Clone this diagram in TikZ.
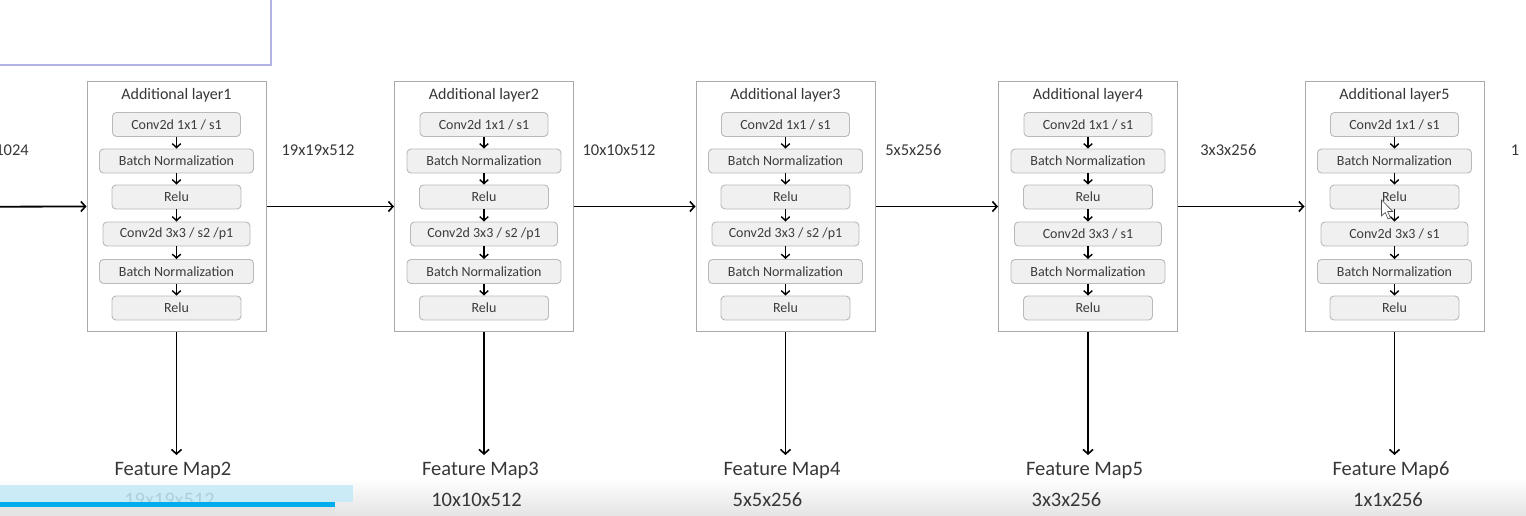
\documentclass[tikz,border=0pt]{standalone}
\usepackage{fontspec}
\setmainfont{Carlito}
\usetikzlibrary{arrows.meta}
\definecolor{txt}{RGB}{55,55,55}
\definecolor{boxtxt}{RGB}{60,60,60}
\definecolor{outerc}{RGB}{170,170,170}
\definecolor{innerfill}{RGB}{240,240,240}
\definecolor{innerdraw}{RGB}{185,185,185}
\definecolor{lavender}{RGB}{178,178,228}
\definecolor{hllight}{RGB}{196,234,248}
\definecolor{hlblue}{RGB}{0,172,236}
\definecolor{bandgray}{RGB}{228,228,228}
\tikzset{
  outerbox/.style={draw=outerc, line width=1pt, minimum width=179pt, minimum height=249pt, inner sep=0pt},
  titletext/.style={font=\fontsize{16}{18}\selectfont, text=txt, anchor=base, inner sep=0pt},
  innerbox/.style={draw=innerdraw, fill=innerfill, rounded corners=4pt, line width=0.9pt, minimum height=24pt, inner sep=0pt, font=\fontsize{14}{16}\selectfont, text=boxtxt},
  smallarrow/.style={draw=black, line width=1.4pt, -{Straight Barb[length=4pt,width=8.5pt,line width=1.4pt]}},
  bigarrow/.style={draw=black, line width=1.8pt, -{Straight Barb[length=4.5pt,width=10pt,line width=1.6pt]}},
  dimtext/.style={font=\fontsize{16.5}{19}\selectfont, text=txt, anchor=base, inner sep=0pt},
  fmtext/.style={font=\fontsize{20.5}{24}\selectfont, text=txt, anchor=base, inner sep=0pt},
}
\newcommand\mylayer[4]{%
  \node[outerbox] (L#1) at (#2,206.5) {};
  \node[titletext] (L#1t) at (#2,100) {Additional layer#1};
  \node[innerbox, minimum width=128pt] (L#1a) at (#2,124.5) {Conv2d 1x1 / s1};
  \node[innerbox, minimum width=154pt] (L#1b) at (#2,161) {Batch Normalization};
  \node[innerbox, minimum width=129pt] (L#1c) at (#2,197) {Relu};
  \node[innerbox, minimum width=147pt] (L#1d) at (#2,234) {#3};
  \node[innerbox, minimum width=154pt] (L#1e) at (#2,271.5) {Batch Normalization};
  \node[innerbox, minimum width=129pt] (L#1f) at (#2,308) {Relu};
  \draw[smallarrow] (L#1a) -- (L#1b);
  \draw[smallarrow] (L#1b) -- (L#1c);
  \draw[smallarrow] (L#1c) -- (L#1d);
  \draw[smallarrow] (L#1d) -- (L#1e);
  \draw[smallarrow] (L#1e) -- (L#1f);
  \coordinate (E#1) at (#2,455);
  \draw[bigarrow] (L#1.south) -- (E#1);
  \node[fmtext] (F#1) at (#2-3.5,475) {Feature Map#4};
}
\begin{document}
\begin{tikzpicture}[x=1pt,y=-1pt]
\useasboundingbox (0,0) rectangle (1526,516);
\fill[white] (0,0) rectangle (1526,516);
\shade[top color=white, bottom color=bandgray] (0,478) rectangle (1526,516);
% top-left window frame
\draw[lavender, line width=1.3pt] (-3,-3) rectangle (271,65);

\mylayer{1}{176.5}{Conv2d 3x3 / s2 /p1}{2}
\mylayer{2}{484}{Conv2d 3x3 / s2 /p1}{3}
\mylayer{3}{785.5}{Conv2d 3x3 / s2 /p1}{4}
\mylayer{4}{1088}{Conv2d 3x3 / s1}{5}
\mylayer{5}{1394.5}{Conv2d 3x3 / s1}{6}

% horizontal connectors
\coordinate (IN) at (-2,206.7);
\draw[bigarrow] (IN) -- (L1.west);
\draw[bigarrow] (L1.east) -- (L2.west);
\draw[bigarrow] (L2.east) -- (L3.west);
\draw[bigarrow] (L3.east) -- (L4.west);
\draw[bigarrow] (L4.east) -- (L5.west);

% dimension labels between layers
\node[dimtext, anchor=base east] (D0) at (29,156) {1024};
\node[dimtext] (D1) at (318,156) {19x19x512};
\node[dimtext] (D2) at (619,156) {10x10x512};
\node[dimtext] (D3) at (913.3,156) {5x5x256};
\node[dimtext] (D4) at (1228.3,156) {3x3x256};
\node[dimtext] (D5) at (1515,156) {1};

% feature map sizes
\node[fmtext] (S1) at (169.5,506.5) {19x19x512};
\node[fmtext] (S2) at (476.5,506.5) {10x10x512};
\node[fmtext] (S3) at (767.5,506.5) {5x5x256};
\node[fmtext] (S4) at (1066.5,506.5) {3x3x256};
\node[fmtext] (S5) at (1388,506.5) {1x1x256};

% highlight marks at bottom left
\fill[hllight, opacity=0.85] (0,485) rectangle (353,502);
\fill[hlblue] (0,501.5) rectangle (335,507);
\fill[bandgray] (0,507) rectangle (335,516);

% mouse cursor
\filldraw[fill=white, draw=black!70, line width=0.6pt]
  (1381.5,200) -- (1381.5,216) -- (1385.2,212.5) -- (1388,219) -- (1390.5,218) -- (1387.7,211.5) -- (1392.8,211.5) -- cycle;
\end{tikzpicture}
\end{document}
